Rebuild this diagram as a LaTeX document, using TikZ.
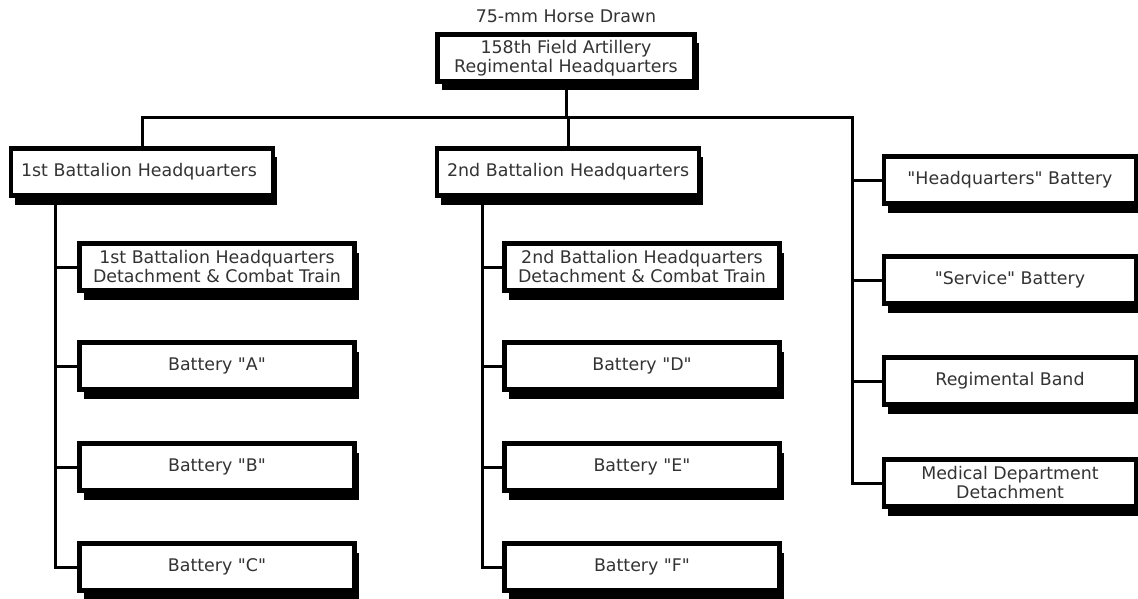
\documentclass[tikz,border=0pt]{standalone}
\usepackage{fontspec}
\setmainfont{DejaVu Sans}
\usetikzlibrary{shadows}
\newcommand{\qq}[1]{\textquotedbl#1\textquotedbl}
\tikzset{
  unit/.style={draw, line width=4.5pt, fill=white, text=black!80, minimum height=47pt,
    inner sep=2pt, align=center,
    drop shadow={shadow xshift=4pt, shadow yshift=-9pt, fill=black, opacity=1}},
  hqbox/.style={text width=254pt, align=left, inner sep=4pt,
    execute at begin node={\hspace*{6pt}}},
  conn/.style={line width=3pt},
}
\begin{document}
\begin{tikzpicture}[x=1pt, y=-1pt, font=\fontsize{17.4}{19}\selectfont]
        \useasboundingbox (0,0) rectangle (1138,599);
        \clip (0,0) rectangle (1138,599);
        % regiment
        \node[text=black!80] (title) at (566,16) {75-mm Horse Drawn};
        \node[unit, minimum width=257pt] (regt) at (566,58) {158th Field Artillery\\Regimental Headquarters};
        % battalions
        \node[unit, hqbox] (bn1) at (142,172) {1st Battalion Headquarters};
        \node[unit, hqbox] (bn2) at (568,172) {2nd Battalion Headquarters};
        % 1st battalion
        \node[unit, minimum width=275pt] (det1) at (217,267) {1st Battalion Headquarters\\Detachment \& Combat Train};
        \node[unit, minimum width=275pt] (btyA) at (217,366) {Battery \qq{A}};
        \node[unit, minimum width=275pt] (btyB) at (217,467) {Battery \qq{B}};
        \node[unit, minimum width=275pt] (btyC) at (217,567) {Battery \qq{C}};
        % 2nd battalion
        \node[unit, minimum width=275pt] (det2) at (642,267) {2nd Battalion Headquarters\\Detachment \& Combat Train};
        \node[unit, minimum width=275pt] (btyD) at (642,366) {Battery \qq{D}};
        \node[unit, minimum width=275pt] (btyE) at (642,467) {Battery \qq{E}};
        \node[unit, minimum width=275pt] (btyF) at (642,567) {Battery \qq{F}};
        % regimental units
        \node[unit, minimum width=252pt] (hqbty) at (1010,180) {\qq{Headquarters} Battery};
        \node[unit, minimum width=252pt] (svc) at (1010,280) {\qq{Service} Battery};
        \node[unit, minimum width=252pt] (band) at (1010,381) {Regimental Band};
        \node[unit, minimum width=252pt] (med) at (1010,483) {Medical Department\\Detachment};
        % lines
        \coordinate (busy) at (0,118);
        \coordinate (rtrunk) at (852,118);
        \coordinate (ltrunk) at (55,0);
        \coordinate (mtrunk) at (482,0);
        \draw[conn] (regt.south) -- (regt.south |- busy);
        \draw[conn] (bn1.north) -- (bn1.north |- busy) -- (rtrunk) |- (med.west);
        \draw[conn] (bn2.north) -- (bn2.north |- busy);
        \foreach \n in {hqbty,svc,band}
            \draw[conn] (\n.west) -- (\n.west -| rtrunk);
        \draw[conn] (bn1.south -| ltrunk) |- (btyC.west);
        \foreach \n in {det1,btyA,btyB}
            \draw[conn] (\n.west) -- (\n.west -| ltrunk);
        \draw[conn] (bn2.south -| mtrunk) |- (btyF.west);
        \foreach \n in {det2,btyD,btyE}
            \draw[conn] (\n.west) -- (\n.west -| mtrunk);
    \end{tikzpicture}
\end{document}
